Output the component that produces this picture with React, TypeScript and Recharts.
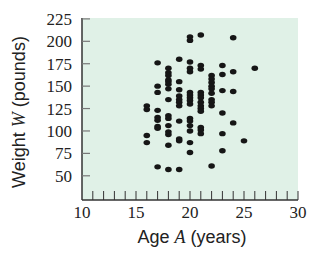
import { ScatterChart, Scatter, XAxis, YAxis, CartesianGrid, Label } from 'recharts'

// weights
const ages = [16, 17, 18, 19, 20, 21, 22, 23, 24, 25, 26]
const weightsAt16 = [128, 124, 95, 87]
const weightsAt17 = [176, 150, 143, 123, 115, 112, 105, 103, 60]
const weightsAt18 = [170, 165, 162, 157, 155, 152, 147, 135, 117, 114, 106, 99, 96, 84, 57]
const weightsAt19 = [180, 155, 146, 139, 135, 132, 128, 111, 91, 89, 57]
const weightsAt20 = [205, 201, 177, 170, 166, 143, 140, 137, 134, 130, 114, 111, 106, 100, 87, 76]
const weightsAt21 = [207, 173, 169, 143, 140, 137, 132, 128, 125, 122, 104, 101, 97]
const weightsAt22 = [162, 158, 154, 150, 147, 142, 135, 132, 128, 61]
const weightsAt23 = [173, 163, 145, 120, 97, 78]
const weightsAt24 = [204, 166, 144, 109]
const weightsAt25 = [89]
const weightsAt26 = [170]

const xTicks = [10, 11, 12, 13, 14, 15, 16, 17, 18, 19, 20, 21, 22, 23, 24, 25, 26, 27, 28, 29, 30]
const yTicks = [50, 75, 100, 125, 150, 175, 200, 225]

const columns = [
  weightsAt16, weightsAt17, weightsAt18, weightsAt19, weightsAt20, weightsAt21,
  weightsAt22, weightsAt23, weightsAt24, weightsAt25, weightsAt26,
]

const points = columns.flatMap((ws, i) => ws.map((w) => ({ age: ages[i], weight: w })))

const serif = 'Liberation Serif'
const sans = 'Liberation Sans'

const XTick = (props: any) => {
  const { x, y, payload } = props
  const v = payload.value
  return (
    <g>
      {v !== 10 && <line x1={x} x2={x} y1={y} y2={y - 9} stroke="#333" strokeWidth={1} />}
      {v % 5 === 0 && (
        <text x={x} y={y + 18} textAnchor="middle" fontFamily={serif} fontSize={17} fill="#222">
          {v}
        </text>
      )}
    </g>
  )
}

const YTick = (props: any) => {
  const { x, y, payload } = props
  return (
    <g>
      <line x1={x} x2={x + 8} y1={y} y2={y} stroke="#777" strokeWidth={1.2} />
      <text x={x - 10} y={y} dy="0.35em" textAnchor="end" fontFamily={serif} fontSize={17} fill="#222">
        {payload.value}
      </text>
    </g>
  )
}

const Dot = (props: any) => <ellipse cx={props.cx} cy={props.cy} rx={3.3} ry={2.7} fill="#161616" />

export default function App() {
  return (
    <div style={{ position: 'absolute', left: 0, top: 0, fontFamily: serif }}>
      <ScatterChart width={309} height={255} margin={{ top: 18, right: 11, bottom: 0, left: 0 }}>
        <CartesianGrid horizontal={false} vertical={false} fill="#e0f1e7" />
        <XAxis
          type="number"
          dataKey="age"
          domain={[10, 30]}
          ticks={xTicks}
          interval={0}
          allowDataOverflow
          height={55}
          tickSize={0}
          tickMargin={0}
          tickLine={false}
          axisLine={{ stroke: '#333', strokeWidth: 1.5 }}
          tick={<XTick />}
        >
          <Label
            content={(p: any) => {
              const vb = p.viewBox
              return (
                <text x={vb.x + vb.width / 2 + 2} y={vb.y + 43} textAnchor="middle" fontFamily={sans} fontSize={18} fill="#222">
                  Age <tspan fontFamily={serif} fontStyle="italic">A</tspan> (years)
                </text>
              )
            }}
          />
        </XAxis>
        <YAxis
          type="number"
          dataKey="weight"
          domain={[23, 226]}
          ticks={yTicks}
          interval={0}
          allowDataOverflow
          width={82}
          tickSize={0}
          tickMargin={0}
          tickLine={false}
          axisLine={{ stroke: '#333', strokeWidth: 1.5 }}
          tick={<YTick />}
        >
          <Label
            content={(p: any) => {
              const vb = p.viewBox
              const cy = vb.y + vb.height / 2 + 3
              return (
                <text x={25} y={cy} transform={`rotate(-90, 25, ${cy})`} textAnchor="middle" fontFamily={sans} fontSize={18} fill="#222">
                  Weight <tspan fontFamily={serif} fontStyle="italic">W</tspan> (pounds)
                </text>
              )
            }}
          />
        </YAxis>
        <Scatter data={points} shape={<Dot />} isAnimationActive={false} />
      </ScatterChart>
    </div>
  )
}
